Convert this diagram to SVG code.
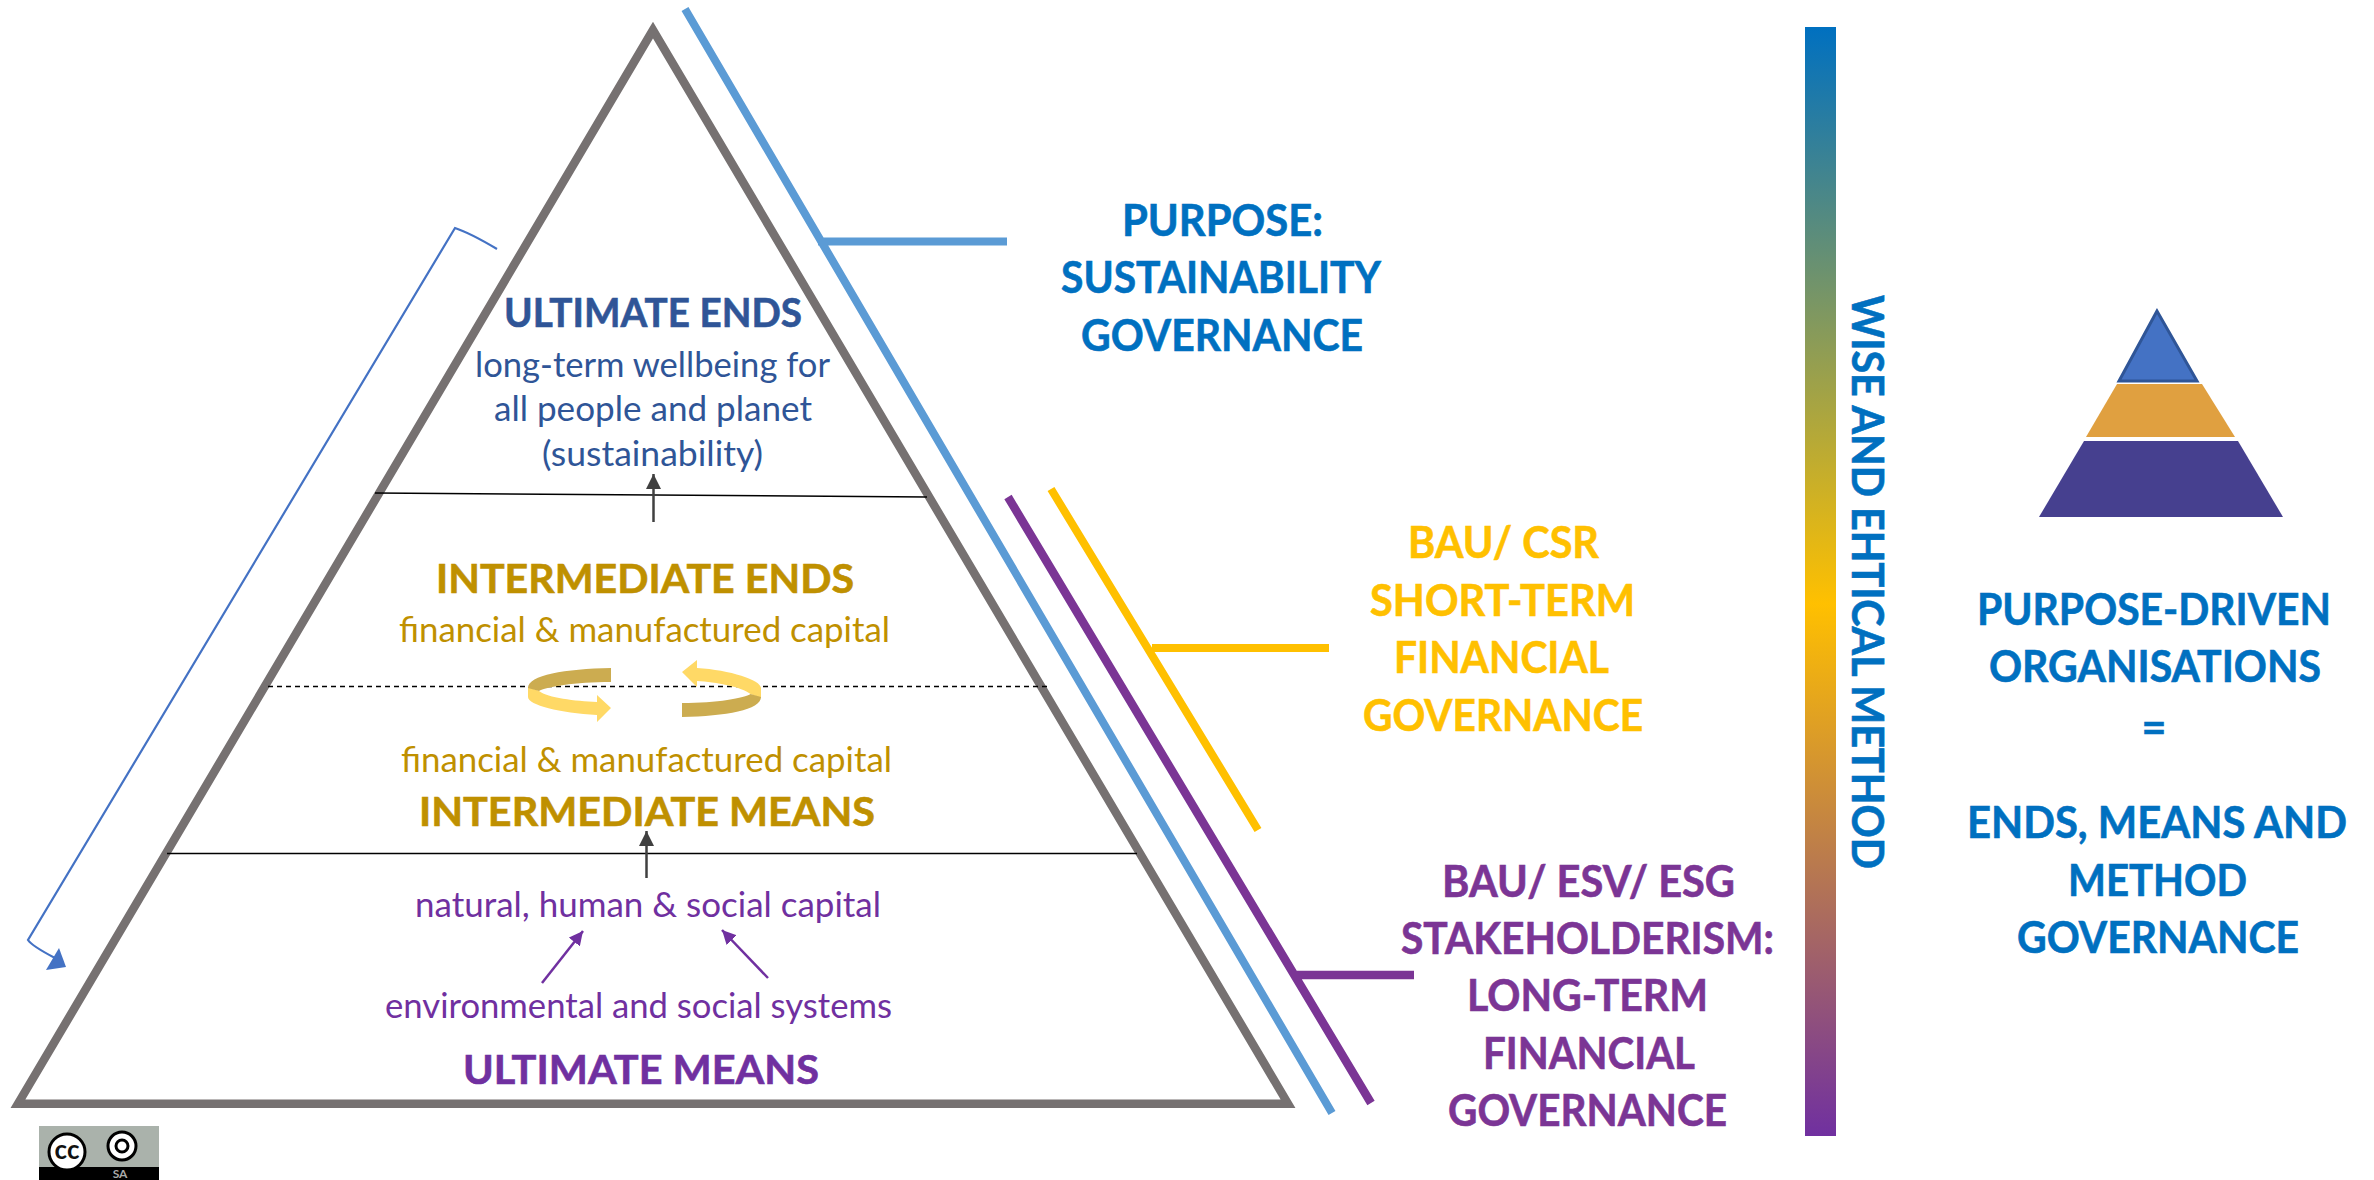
<svg xmlns="http://www.w3.org/2000/svg" width="2374" height="1180" viewBox="0 0 2374 1180">
<style>
text{font-family:"Lato","Carlito","Liberation Sans",sans-serif;white-space:pre}
.h{font-weight:700;font-size:40px;stroke-width:.6px}
.b{font-weight:700;font-size:43px;stroke-width:.6px}
.r{font-weight:400;font-size:35px;stroke-width:0}
.bl{fill:#2F5597;stroke:#2F5597}.go{fill:#BF9000;stroke:#BF9000}.pu{fill:#7030A0;stroke:#7030A0}.pl{fill:#7B3595;stroke:#7B3595}.az{fill:#0070C0;stroke:#0070C0}.ye{fill:#FFC000;stroke:#FFC000}
.thin{stroke:#000;stroke-width:1.600;fill:none}
.gar{stroke:#404040;stroke-width:2.500;fill:none;marker-end:url(#ga)}
.par{stroke:#7030A0;stroke-width:2.500;fill:none;marker-end:url(#pa)}
</style>
<defs>
<marker id="ga" viewBox="0 0 10 10" refX="10" refY="5" markerUnits="userSpaceOnUse" markerWidth="16" markerHeight="15" orient="auto"><path d="M0 0L10 5L0 10Z" fill="#404040"/></marker>
<marker id="pa" viewBox="0 0 10 10" refX="10" refY="5" markerUnits="userSpaceOnUse" markerWidth="14" markerHeight="14" orient="auto"><path d="M0 0L10 5L0 10Z" fill="#7030A0"/></marker>
<linearGradient id="bar" x1="0" y1="0" x2="0" y2="1"><stop offset="0" stop-color="#0070C0"/><stop offset=".52" stop-color="#FFC000"/><stop offset="1" stop-color="#7030A0"/></linearGradient>
</defs>

<g id="main-pyramid">
<path d="M653 30L18 1103.700H1288Z" fill="#fff" stroke="#767171" stroke-width="8.500" stroke-miterlimit="10"/>
<path d="M375 493L927 497M167 853.500H1137" class="thin"/>
<path d="M268 686.500H1049" class="thin" stroke-dasharray="5 4"/>
</g>

<g id="connectors">
<path d="M653.500 522V474" class="gar"/>
<path d="M646.500 878V831" class="gar"/>
<path d="M542 983L583 931" class="par"/>
<path d="M768 978L722 930" class="par"/>
<path d="M497 249Q470 233 455 228L28 940Q32 946 55 958" fill="none" stroke="#4472C4" stroke-width="2.200"/>
<path d="M66 967L59 948L46 970Z" fill="#4472C4"/>
<path d="M685 9L1332 1113M818 241.500H1007" fill="none" stroke="#5B9BD5" stroke-width="8"/>
<path d="M1008 497L1371 1103M1297 975H1414" fill="none" stroke="#7B3595" stroke-width="8.500"/>
<path d="M1051 489L1258 830M1152 648H1329" fill="none" stroke="#FFC000" stroke-width="8"/>
</g>

<g id="cycle-arrows">
<path d="M528 687L539 691C548 698 575 701 597 702V695L611 708L597 722V715C560 713 528 705 528 697Z" fill="#FFD966"/>
<path d="M611 668C565 669 528 675 528 688L539 691C545 687 575 682 611 682Z" fill="#CCAC50"/>
<path d="M761 698L750.500 694C742 687 716 682 697 681V687L682 672L697 660V668C730 670 761 680 761 688Z" fill="#FFD966"/>
<path d="M682 717C726 716 761 710 761 697L750.500 694C745 698 717 703 682 703Z" fill="#CCAC50"/>
</g>

<g id="ultimate-ends">
<text x="504" y="327" class="h bl" textLength="298" lengthAdjust="spacingAndGlyphs">ULTIMATE ENDS</text>
<text x="475" y="377" class="r bl" textLength="355" lengthAdjust="spacingAndGlyphs">long-term wellbeing for</text>
<text x="494" y="421" class="r bl" textLength="318" lengthAdjust="spacingAndGlyphs">all people and planet</text>
<text x="542" y="466" class="r bl" textLength="221" lengthAdjust="spacingAndGlyphs">(sustainability)</text>
</g>
<g id="intermediate-ends">
<text x="436" y="593" class="h go" textLength="418" lengthAdjust="spacingAndGlyphs">INTERMEDIATE ENDS</text>
<text x="399" y="642" class="r go" textLength="491" lengthAdjust="spacingAndGlyphs">financial &amp; manufactured capital</text>
</g>
<g id="intermediate-means">
<text x="401" y="772" class="r go" textLength="491" lengthAdjust="spacingAndGlyphs">financial &amp; manufactured capital</text>
<text x="419" y="826" class="h go" textLength="456" lengthAdjust="spacingAndGlyphs">INTERMEDIATE MEANS</text>
</g>
<g id="ultimate-means">
<text x="415" y="917" class="r pu" textLength="466" lengthAdjust="spacingAndGlyphs">natural, human &amp; social capital</text>
<text x="385" y="1018" class="r pu" textLength="507" lengthAdjust="spacingAndGlyphs">environmental and social systems</text>
<text x="463" y="1084" class="h pu" textLength="356" lengthAdjust="spacingAndGlyphs">ULTIMATE MEANS</text>
</g>

<g id="purpose-label">
<text x="1122" y="236" class="b az" textLength="201" lengthAdjust="spacingAndGlyphs">PURPOSE:</text>
<text x="1061" y="293" class="b az" textLength="320" lengthAdjust="spacingAndGlyphs">SUSTAINABILITY</text>
<text x="1081" y="351" class="b az" textLength="282" lengthAdjust="spacingAndGlyphs">GOVERNANCE</text>
</g>
<g id="csr-label">
<text x="1408" y="558" class="b ye" textLength="191" lengthAdjust="spacingAndGlyphs">BAU/ CSR</text>
<text x="1370" y="616" class="b ye" textLength="265" lengthAdjust="spacingAndGlyphs">SHORT-TERM</text>
<text x="1394" y="673" class="b ye" textLength="215" lengthAdjust="spacingAndGlyphs">FINANCIAL</text>
<text x="1363" y="731" class="b ye" textLength="280" lengthAdjust="spacingAndGlyphs">GOVERNANCE</text>
</g>
<g id="esg-label">
<text x="1442" y="897" class="b pl" textLength="293" lengthAdjust="spacingAndGlyphs">BAU/ ESV/ ESG</text>
<text x="1401" y="954" class="b pl" textLength="373" lengthAdjust="spacingAndGlyphs">STAKEHOLDERISM:</text>
<text x="1467" y="1011" class="b pl" textLength="241" lengthAdjust="spacingAndGlyphs">LONG-TERM</text>
<text x="1483" y="1069" class="b pl" textLength="212" lengthAdjust="spacingAndGlyphs">FINANCIAL</text>
<text x="1448" y="1126" class="b pl" textLength="279" lengthAdjust="spacingAndGlyphs">GOVERNANCE</text>
</g>

<g id="method-bar">
<rect x="1805" y="27" width="31" height="1109" fill="url(#bar)"/>
<text transform="translate(1852 295) rotate(90)" class="b az" textLength="574" lengthAdjust="spacingAndGlyphs">WISE AND EHTICAL METHOD</text>
</g>

<g id="mini-pyramid">
<path d="M2039 517L2084 441H2238L2283 517Z" fill="#46408F"/>
<path d="M2086 437L2117 384H2202L2235 437Z" fill="#E0A040"/>
<path d="M2157 311L2119 381H2197Z" fill="#4472C4" stroke="#2F5597" stroke-width="3"/>
</g>
<g id="purpose-driven-label">
<text x="1977" y="625" class="b az" textLength="354" lengthAdjust="spacingAndGlyphs">PURPOSE-DRIVEN</text>
<text x="1989" y="682" class="b az" textLength="332" lengthAdjust="spacingAndGlyphs">ORGANISATIONS</text>
<text x="2154" y="743" class="b az" text-anchor="middle">=</text>
<text x="1967" y="838" class="b az" textLength="380" lengthAdjust="spacingAndGlyphs">ENDS, MEANS AND</text>
<text x="2068" y="896" class="b az" textLength="179" lengthAdjust="spacingAndGlyphs">METHOD</text>
<text x="2017" y="953" class="b az" textLength="282" lengthAdjust="spacingAndGlyphs">GOVERNANCE</text>
</g>

<g id="cc-badge">
<rect x="39" y="1126" width="120" height="54" fill="#AAB2AB"/>
<rect x="39" y="1167" width="120" height="13" fill="#000"/>
<circle cx="67" cy="1152" r="18" fill="#fff" stroke="#000" stroke-width="3"/>
<text x="67" y="1159" font-size="26" font-weight="700" text-anchor="middle" fill="#111">cc</text>
<circle cx="122" cy="1146" r="14" fill="#fff" stroke="#000" stroke-width="3"/>
<circle cx="122" cy="1146" r="6" fill="none" stroke="#000" stroke-width="3"/>
<text x="120" y="1178" font-size="12" font-weight="700" text-anchor="middle" fill="#aaa">SA</text>
</g>
</svg>
